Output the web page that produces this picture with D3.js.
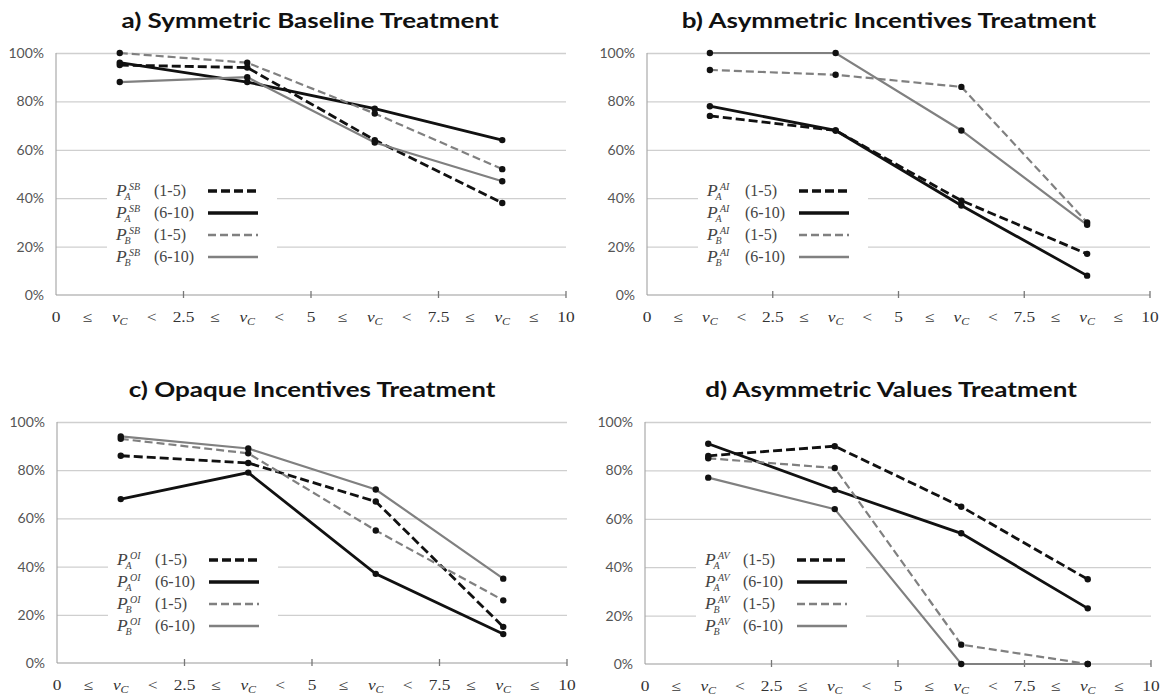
<!DOCTYPE html>
<html>
<head>
<meta charset="utf-8">
<script src="https://cdn.jsdelivr.net/npm/d3@7"></script>
<style>
	body { margin: 0; background: #fff; }
</style>
</head>
<body>
<div id="chart"></div>
<script>
const titles = [
	'a) Symmetric Baseline Treatment',
	'b) Asymmetric Incentives Treatment',
	'c) Opaque Incentives Treatment',
	'd) Asymmetric Values Treatment'
];
const codes = ['SB', 'AI', 'OI', 'AV'];
const binMids = [1.25, 3.75, 6.25, 8.75];
const yTicks = [0, 20, 40, 60, 80, 100];
const xTickMarks = [2.5, 5, 7.5, 10];
const xLabels = ['0', '≤', 'v', '<', '2.5', '≤', 'v', '<', '5', '≤', 'v', '<', '7.5', '≤', 'v', '≤', '10'];
const players = ['A', 'A', 'B', 'B'];
const rounds = ['(1-5)', '(6-10)', '(1-5)', '(6-10)'];

// series order: A (1-5), A (6-10), B (1-5), B (6-10)
const sbData = [[95, 94, 64, 38], [96, 88, 77, 64], [100, 96, 75, 52], [88, 90, 63, 47]];
const aiData = [[74, 68, 39, 17], [78, 68, 37, 8], [93, 91, 86, 30], [100, 100, 68, 29]];
const oiData = [[86, 83, 67, 15], [68, 79, 37, 12], [93, 87, 55, 26], [94, 89, 72, 35]];
const avData = [[86, 90, 65, 35], [91, 72, 54, 23], [85, 81, 8, 0], [77, 64, 0, 0]];

const panels = [sbData, aiData, oiData, avData];

const frames = [
	{ x0: 56, x1: 566, top: 53, bottom: 295, tx: 310 },
	{ x0: 647, x1: 1150, top: 53, bottom: 295, tx: 889 },
	{ x0: 57, x1: 567, top: 422, bottom: 663, tx: 312 },
	{ x0: 645, x1: 1151, top: 422, bottom: 664, tx: 891 }
];

const strokes = ['#111', '#111', '#808080', '#808080'],
	dashes = ['9,4', null, '8,4', null],
	widths = [2.8, 2.8, 2.2, 2.2];

const SX = 1.2; // figure is a bit stretched sideways
const serif = '"Liberation Serif", "DejaVu Serif", serif';

const svg = d3.select('#chart')
	.append('svg')
	.attr('width', 1167)
	.attr('height', 700);

panels.forEach((series, k) => {
	const f = frames[k];
	const x = d3.scaleLinear().domain([0, 10]).range([f.x0, f.x1]);
	const y = d3.scaleLinear().domain([0, 100]).range([f.bottom, f.top]);
	const g = svg.append('g');

	// title
	g.append('text')
		.attr('transform', `translate(${f.tx},${f.top - 25}) scale(1.24,1)`)
		.attr('text-anchor', 'middle')
		.attr('font-family', 'Lato, "Open Sans", sans-serif')
		.attr('font-weight', 'bold')
		.attr('font-size', 21)
		.attr('fill', '#111')
		.text(titles[k]);

	// gridlines + y labels
	g.append('g')
		.attr('transform', `translate(${f.x0},0)`)
		.call(d3.axisRight(y).tickValues(yTicks.slice(1)).tickSize(f.x1 - f.x0).tickFormat(''))
		.call(a => a.select('.domain').remove())
		.call(a => a.selectAll('line').attr('stroke', '#cfcfcf').attr('stroke-width', 1.3));

	g.append('g')
		.attr('transform', `translate(${f.x0},0)`)
		.call(d3.axisLeft(y).tickValues(yTicks).tickSize(0).tickFormat(d => d + '%'))
		.call(a => a.select('.domain').remove())
		.call(a => a.selectAll('text')
			.attr('x', -12)
			.attr('font-family', 'Lato, "Open Sans", sans-serif')
			.attr('font-size', 14)
			.attr('fill', '#555'));

	// axis lines
	g.append('line')
		.attr('x1', f.x0).attr('x2', f.x0)
		.attr('y1', f.top).attr('y2', f.bottom)
		.attr('stroke', '#aaa').attr('stroke-width', 1.2);
	g.append('line')
		.attr('x1', f.x0).attr('x2', f.x1)
		.attr('y1', f.bottom).attr('y2', f.bottom)
		.attr('stroke', '#999').attr('stroke-width', 1.2);
	g.selectAll('.xtick')
		.data(xTickMarks)
		.join('line')
		.attr('x1', d => x(d)).attr('x2', d => x(d))
		.attr('y1', f.bottom - 4).attr('y2', f.bottom + 3)
		.attr('stroke', '#777').attr('stroke-width', 1.3);

	// x labels
	const step = 10 / (xLabels.length - 1);
	g.selectAll('.xlab')
		.data(xLabels)
		.join('text')
		.attr('transform', (d, i) => `translate(${x(i * step)},${f.bottom + 27}) scale(${SX},1)`)
		.attr('text-anchor', 'middle')
		.attr('font-family', serif)
		.attr('font-size', 14.5)
		.attr('fill', '#333')
		.each(function (d) {
			const t = d3.select(this);
			if (d === 'v') {
				t.append('tspan').attr('font-style', 'italic').text('v');
				t.append('tspan').attr('font-style', 'italic').attr('font-size', 10).attr('dy', 3).text('C');
			} else {
				t.text(d);
			}
		});

	// legend
	const lg = g.append('g').attr('transform', `translate(${f.x0},${f.top + 138})`);
	lg.append('rect')
		.attr('x', 51).attr('y', -15)
		.attr('width', 170).attr('height', 90)
		.attr('fill', '#fff');
	series.forEach((s, i) => {
		const row = lg.append('g').attr('transform', `translate(0,${i * 22})`);
		row.append('line')
			.attr('x1', 152).attr('x2', 202)
			.attr('y1', 0).attr('y2', 0)
			.attr('stroke', strokes[i])
			.attr('stroke-width', widths[i] + 0.5)
			.attr('stroke-dasharray', dashes[i]);
		const lab = row.append('g')
			.attr('transform', `translate(60,5)`)
			.attr('font-family', serif)
			.attr('fill', '#444');
		// P with stacked super/subscript in one text
		const p = lab.append('text').attr('font-style', 'italic');
		p.append('tspan').attr('font-size', 17.5).text('P');
		p.append('tspan').attr('x', 13).attr('dy', -6).attr('font-size', 10).text(codes[k]);
		p.append('tspan').attr('x', 8.5).attr('dy', 10).attr('font-size', 10).text(players[i]);
		lab.append('text').attr('x', 38).attr('font-size', 16).text(rounds[i]);
	});

	// lines
	const line = d3.line()
		.x((d, i) => x(binMids[i]))
		.y(d => y(d));
	series.forEach((s, i) => {
		g.append('path')
			.datum(s)
			.attr('d', line)
			.attr('fill', 'none')
			.attr('stroke', strokes[i])
			.attr('stroke-width', widths[i])
			.attr('stroke-dasharray', dashes[i]);
	});
	series.forEach(s => {
		g.selectAll(null)
			.data(s)
			.join('circle')
			.attr('cx', (d, i) => x(binMids[i]))
			.attr('cy', d => y(d))
			.attr('r', 3.2)
			.attr('fill', '#111');
	});
});
</script>
</body>
</html>
